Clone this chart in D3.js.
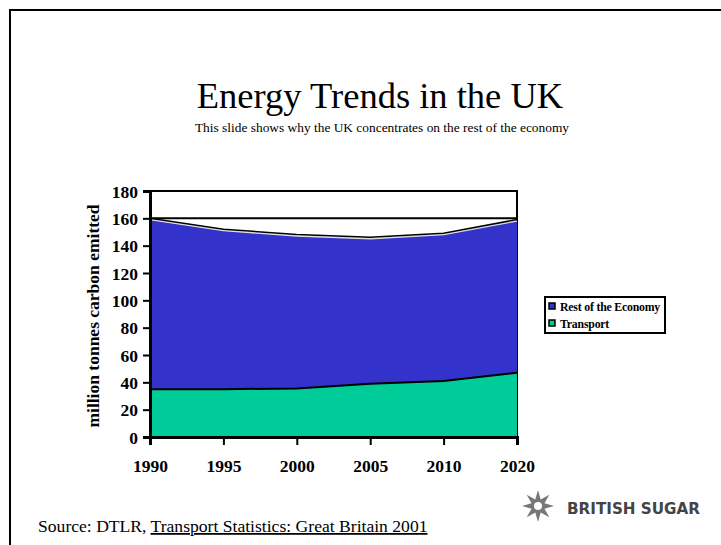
<!DOCTYPE html>
<html lang="en">
<head>
<meta charset="UTF-8">
<title>Energy Trends in the UK</title>
<style>
  * { margin: 0; padding: 0; }
  body { background: #fff; width: 721px; height: 545px; overflow: hidden; }
  svg { display: block; font-family: "Liberation Serif", "Times New Roman", serif; }
</style>
</head>
<body>
<svg id="svg" width="721" height="545"></svg>
<script src="https://d3js.org/d3.v7.min.js"></script>
<script>
// data
const years = ['1990', '1995', '2000', '2005', '2010', '2020'];
const transport = [35, 35, 35.5, 39, 41, 47];
const restOfEconomy = [124, 116, 111.5, 106, 107, 111];
const yTicks = [0, 20, 40, 60, 80, 100, 120, 140, 160, 180];
const seriesNames = ['Rest of the Economy', 'Transport'];
const seriesColors = ['#3333cc', '#00cc99'];

const svg = d3.select('#svg');

// slide frame
svg.append('path').attr('d', 'M10,545V10H721')
  .attr('fill', 'none').attr('stroke', '#000').attr('stroke-width', 2);

// titles
svg.append('text').attr('x', 380).attr('y', 108).attr('text-anchor', 'middle')
  .attr('font-size', 36.5).text('Energy Trends in the UK');
svg.append('text').attr('x', 382).attr('y', 131.5).attr('text-anchor', 'middle')
  .attr('font-size', 13.4).text('This slide shows why the UK concentrates on the rest of the economy');

// chart
const pl = 150, pr = 517, pt = 191, pb = 437;
const x = d3.scalePoint().domain(years).range([pl, pr]);
const y = d3.scaleLinear().domain([0, 180]).range([pb, pt]);

const rows = years.map((yr, i) => ({ year: yr, transport: transport[i], rest: restOfEconomy[i] }));
const stack = d3.stack().keys(['transport', 'rest'])(rows);

const area = d3.area()
  .x(d => x(d.data.year))
  .y0(d => y(d[0]))
  .y1(d => y(d[1]));
const topLine = d3.line().x(d => x(d.data.year)).y(d => y(d[1]));

const g = svg.append('g');

// frame of plot area + line at 160
g.append('rect').attr('x', pl).attr('y', pt).attr('width', pr - pl).attr('height', pb - pt)
  .attr('fill', '#fff').attr('stroke', '#000').attr('stroke-width', 2);
g.append('line').attr('x1', pl).attr('x2', pr).attr('y1', y(160)).attr('y2', y(160))
  .attr('stroke', '#000').attr('stroke-width', 2);

g.append('path').datum(stack[1]).attr('d', area).attr('fill', seriesColors[0]);
g.append('path').datum(stack[0]).attr('d', area).attr('fill', seriesColors[1]);

// edges: white highlight under black line on the top series
g.append('path').datum(stack[1]).attr('d', topLine)
  .attr('fill', 'none').attr('stroke', '#ddd').attr('stroke-width', 1.2);
g.append('path').datum(stack[1]).attr('d', topLine).attr('transform', 'translate(0,-1.5)')
  .attr('fill', 'none').attr('stroke', '#000').attr('stroke-width', 1.5);
g.append('path').datum(stack[0]).attr('d', topLine)
  .attr('fill', 'none').attr('stroke', '#000').attr('stroke-width', 2);

// axes
const yAxis = g.append('g').attr('transform', `translate(${pl},0)`)
  .call(d3.axisLeft(y).tickValues(yTicks).tickSize(7).tickPadding(5));
const xAxis = g.append('g').attr('transform', `translate(0,${pb})`)
  .call(d3.axisBottom(x).tickSize(8).tickPadding(15));
[yAxis, xAxis].forEach(a => {
  a.attr('font-family', null).attr('font-size', 17.5).attr('font-weight', 'bold');
  a.select('.domain').attr('stroke-width', 3);
  a.selectAll('.tick line').attr('stroke-width', 2);
});
yAxis.selectAll('.tick text').attr('dy', '0.36em');

svg.append('text')
  .attr('transform', 'translate(99,316) rotate(-90)')
  .attr('text-anchor', 'middle').attr('font-weight', 'bold').attr('font-size', 17.5)
  .text('million tonnes carbon emitted');

// legend
const lg = svg.append('g').attr('transform', 'translate(545,297)');
lg.append('rect').attr('width', 120).attr('height', 36)
  .attr('fill', '#fff').attr('stroke', '#000').attr('stroke-width', 2);
seriesNames.forEach((name, i) => {
  const row = lg.append('g').attr('transform', `translate(4,${6 + i * 17})`);
  row.append('rect').attr('width', 6).attr('height', 6)
    .attr('fill', seriesColors[i]).attr('stroke', '#000').attr('stroke-width', 1.5);
  row.append('text').attr('x', 11).attr('y', 7.5)
    .attr('font-size', 11.8).attr('font-weight', 'bold').attr('letter-spacing', -0.2).text(name);
});

// source
const src = svg.append('text').attr('x', 38).attr('y', 532).attr('font-size', 17.6);
src.append('tspan').text('Source: DTLR, ');
src.append('tspan').attr('text-decoration', 'underline').text('Transport Statistics: Great Britain 2001');

// British Sugar logo
const logo = svg.append('g').attr('transform', 'translate(538,506)');
const starPts = d3.range(16).map(i => {
  const a = i * Math.PI / 8 - Math.PI / 2;
  const r = i % 2 ? 7 : 16;
  return [r * Math.cos(a), r * Math.sin(a)];
});
logo.append('polygon').attr('points', starPts.map(p => p.join(',')).join(' '))
  .attr('fill', '#777');
logo.append('circle').attr('r', 4).attr('fill', '#fff');
svg.append('text').attr('x', 567).attr('y', 514)
  .attr('font-family', '"DejaVu Sans", sans-serif').attr('font-size', 16).attr('font-weight', 'bold')
  .attr('textLength', 133).attr('lengthAdjust', 'spacingAndGlyphs')
  .attr('fill', '#444').text('BRITISH SUGAR');
</script>
</body>
</html>
